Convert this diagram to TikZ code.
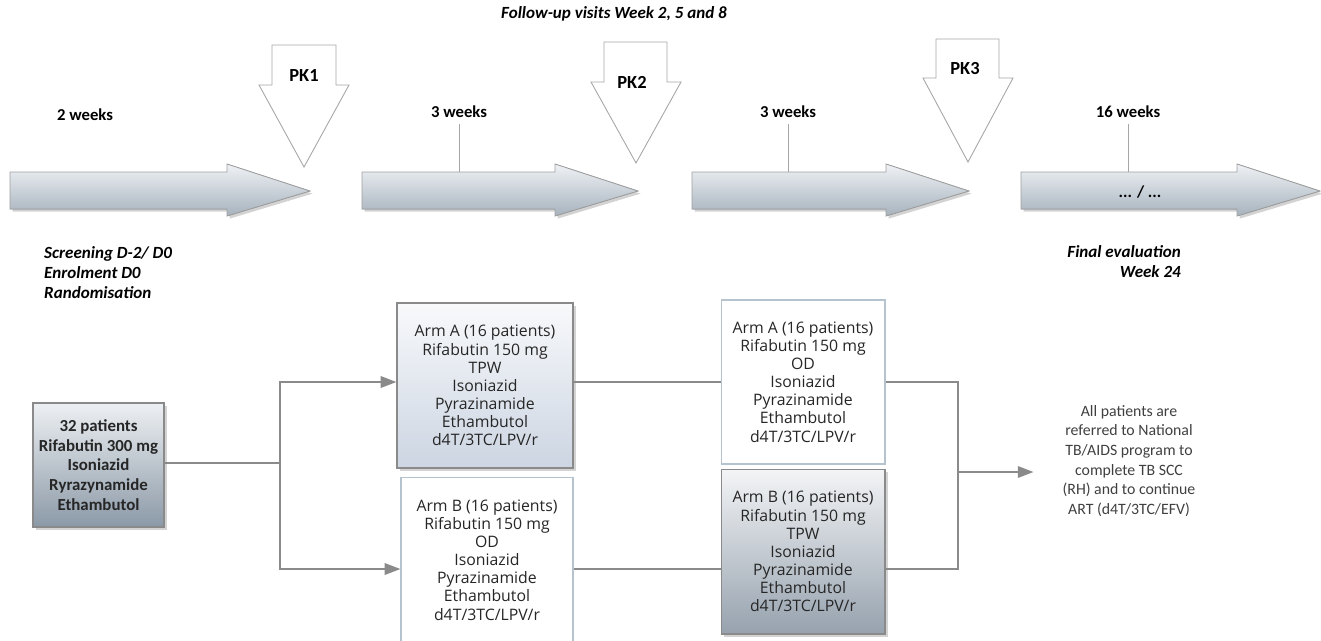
\documentclass[tikz,border=0pt]{standalone}
\usepackage{fontspec}
\setmainfont{Carlito}
\newfontfamily\armfont{Open Sans}
\usetikzlibrary{arrows.meta,shadows}

\definecolor{tltop}{HTML}{EFF2F5}
\definecolor{tlbot}{HTML}{A6B2BD}
\definecolor{ptstop}{HTML}{EDF0F3}
\definecolor{ptsbot}{HTML}{8B99A7}
\definecolor{atop}{HTML}{F8F9FB}
\definecolor{abot}{HTML}{CCD5E2}
\definecolor{btop}{HTML}{F3F4F6}
\definecolor{bbot}{HTML}{96A2AE}
\definecolor{linegray}{HTML}{8A8A8A}
\definecolor{paleline}{HTML}{B5C3CE}

\begin{document}
\begin{tikzpicture}[x=0.02cm, y=-0.02cm,
    timearrow/.style={draw=gray!75, line width=0.5pt, top color=tltop, bottom color=tlbot,
        drop shadow={opacity=0.35, shadow xshift=1.5pt, shadow yshift=-1.5pt}},
    pkarrow/.style={draw=gray!70, line width=0.5pt, fill=white},
    pklabel/.style={font=\bfseries\fontsize{10.5}{12}\selectfont},
    weeks/.style={font=\bfseries\fontsize{9.5}{11}\selectfont},
    note/.style={font=\bfseries\itshape\fontsize{9.7}{11.4}\selectfont},
    tick/.style={draw=gray!70, line width=0.5pt},
    arm/.style={rectangle, draw=paleline, line width=0.6pt, fill=white, align=center,
        inner sep=0pt, font=\armfont\fontsize{9}{10.3}\selectfont, text=black!85},
    shadedarm/.style={arm, draw=linegray, top color=#1top, bottom color=#1bot,
        drop shadow={opacity=0.35, shadow xshift=1.5pt, shadow yshift=-1.5pt}},
    flow/.style={draw=linegray, line width=1.2pt},
    flowarrow/.style={flow, -{Triangle[length=9pt, width=6.5pt]}}
]
    \useasboundingbox (0,0) rectangle (1321,640);

    % Title
    \node[note] (title) at (614,14) {Follow-up visits Week 2, 5 and 8};

    % Timeline arrows
    \filldraw[timearrow] (10,172) -- (227,172) -- (227,164) -- (310,191) -- (227,216) -- (227,209) -- (10,209) -- cycle;
    \filldraw[timearrow] (362,172) -- (555,172) -- (555,164) -- (638,191) -- (555,216) -- (555,209) -- (362,209) -- cycle;
    \filldraw[timearrow] (692,172) -- (886,172) -- (886,164) -- (969,191) -- (886,216) -- (886,209) -- (692,209) -- cycle;
    \filldraw[timearrow] (1021,172) -- (1237,172) -- (1237,164) -- (1320,191) -- (1237,216) -- (1237,209) -- (1021,209) -- cycle;
    \node[weeks] (etc) at (1140,192) {... / ...};
    \coordinate (bar) at (0,172);

    % PK sampling arrows
    \filldraw[pkarrow] (272,45) -- (336,45) -- (336,85) -- (349,85) -- (304,167) -- (259,85) -- (272,85) -- cycle;
    \filldraw[pkarrow] (604,42) -- (667,42) -- (667,82) -- (681,82) -- (636,163) -- (591,82) -- (604,82) -- cycle;
    \filldraw[pkarrow] (936,39) -- (999,39) -- (999,78) -- (1013,78) -- (968,162) -- (923,78) -- (936,78) -- cycle;
    \node[pklabel] (pk1) at (304,76) {PK1};
    \node[pklabel] (pk2) at (632,82) {PK2};
    \node[pklabel] (pk3) at (965,69) {PK3};

    % Durations
    \node[weeks] (wk1) at (85,115) {2 weeks};
    \node[weeks] (wk2) at (459,112) {3 weeks};
    \node[weeks] (wk3) at (788,112) {3 weeks};
    \node[weeks] (wk4) at (1128,112) {16 weeks};
    \draw[tick] (wk2.south) -- (wk2.south |- bar);
    \draw[tick] (wk3.south) -- (wk3.south |- bar);
    \draw[tick] (wk4.south) -- (wk4.south |- bar);

    % Milestones
    \node[note, anchor=west, align=left] (start) at (38,273) {Screening D-2/ D0\\Enrolment D0\\Randomisation};
    \node[note, anchor=east, align=right] (end) at (1187,262) {Final evaluation\\Week 24};

    % Treatment arms
    \node[shadedarm=pts, minimum width=2.62cm, minimum height=2.48cm,
        font=\bfseries\fontsize{9.6}{11.2}\selectfont] (pts) at (98.5,465)
        {32 patients\\Rifabutin 300 mg\\Isoniazid\\Ryrazynamide\\Ethambutol};
    \node[shadedarm=a, minimum width=3.52cm, minimum height=3.3cm] (armA1) at (485,385.5)
        {Arm A (16 patients)\\Rifabutin 150 mg\\TPW\\Isoniazid\\Pyrazinamide\\Ethambutol\\d4T/3TC/LPV/r};
    \node[arm, minimum width=3.44cm, minimum height=3.32cm] (armB1) at (487,560)
        {Arm B (16 patients)\\Rifabutin 150 mg\\OD\\Isoniazid\\Pyrazinamide\\Ethambutol\\d4T/3TC/LPV/r};
    \node[arm, minimum width=3.28cm, minimum height=3.28cm] (armA2) at (803,382)
        {Arm A (16 patients)\\Rifabutin 150 mg\\OD\\Isoniazid\\Pyrazinamide\\Ethambutol\\d4T/3TC/LPV/r};
    \node[shadedarm=b, minimum width=3.28cm, minimum height=3.3cm] (armB2) at (803,551.5)
        {Arm B (16 patients)\\Rifabutin 150 mg\\TPW\\Isoniazid\\Pyrazinamide\\Ethambutol\\d4T/3TC/LPV/r};

    % Referral
    \node[align=center, font=\fontsize{9}{11.2}\selectfont, text=black!75] (final) at (1129,461)
        {All patients are\\referred to National\\TB/AIDS program to\\complete TB SCC\\(RH) and to continue\\ART (d4T/3TC/EFV)};

    % Connectors
    \coordinate (rowA) at (0,382);
    \coordinate (rowB) at (0,569);
    \coordinate (split) at (280,463);
    \coordinate (join) at (958,472);
    \draw[flow] (pts.east |- split) -- (split);
    \draw[flowarrow] (split) |- (armA1.west |- rowA);
    \draw[flowarrow] (split) |- (armB1.west |- rowB);
    \draw[flow] (armA1.east |- rowA) -- (armA2.west |- rowA);
    \draw[flow] (armB1.east |- rowB) -- (armB2.west |- rowB);
    \draw[flow] (armA2.east |- rowA) -| (join) |- (armB2.east |- rowB);
    \draw[flowarrow, shorten >=13pt] (join) -- (join -| final.west);
\end{tikzpicture}
\end{document}
